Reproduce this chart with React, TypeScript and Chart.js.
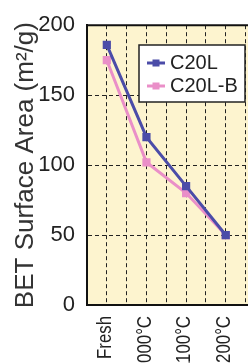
import React, { useEffect, useRef } from "react";
import { Chart, registerables } from "chart.js";

Chart.register(...registerables);

const categories = ["Fresh", "1000°C", "1100°C", "1200°C"];
const seriesNames = ["C20L", "C20L-B"];
const c20l = [186, 120, 85, 50];
const c20lB = [175, 102, 80, 50];
const yTicks = [0, 50, 100, 150, 200];

const FONT = "'Liberation Sans', Arial, Helvetica, sans-serif";
const BLUE = "#4b4ca8";
const PINK = "#ea8fc8";

const CANVAS_W = 291;
const CANVAS_H = 400;

const framePlugin = {
  id: "frame",
  beforeDraw(chart: any) {
    const { ctx, chartArea } = chart;
    ctx.save();
    ctx.fillStyle = "#fdf4cf";
    ctx.fillRect(chartArea.left, chartArea.top, chartArea.right - chartArea.left, chartArea.bottom - chartArea.top);
    ctx.restore();
  },
  afterDatasetsDraw(chart: any) {
    const { ctx, chartArea } = chart;
    ctx.save();
    ctx.strokeStyle = "#111";
    ctx.lineWidth = 2;
    ctx.beginPath();
    ctx.moveTo(chartArea.left - 1, chartArea.top);
    ctx.lineTo(chartArea.right, chartArea.top);
    ctx.stroke();
    ctx.restore();
  },
  afterDraw(chart: any) {
    const { ctx, chartArea } = chart;
    const xs = chart.scales.x;
    // category labels, rotated and read upward
    ctx.save();
    ctx.fillStyle = "#222";
    ctx.font = `21px ${FONT}`;
    ctx.textBaseline = "middle";
    ctx.textAlign = "right";
    categories.forEach((label, i) => {
      const px = xs.getPixelForValue(i) - 1.5;
      ctx.save();
      ctx.translate(px, chartArea.bottom + 11);
      ctx.rotate(-Math.PI / 2);
      ctx.scale(0.8, 1);
      ctx.fillText(label, 0, 0);
      ctx.restore();
    });
    ctx.restore();

    const bx = 139, by = 45, bw = 106, bh = 57;
    ctx.save();
    ctx.fillStyle = "#ffffff";
    ctx.fillRect(bx, by, bw, bh);
    ctx.strokeStyle = "#222";
    ctx.lineWidth = 1.5;
    ctx.strokeRect(bx, by, bw, bh);
    const rows = [63, 86];
    chart.data.datasets.forEach((ds: any, i: number) => {
      const y = rows[i];
      ctx.strokeStyle = ds.borderColor;
      ctx.lineWidth = 3;
      ctx.beginPath();
      ctx.moveTo(147, y);
      ctx.lineTo(165, y);
      ctx.stroke();
      ctx.fillStyle = ds.borderColor;
      ctx.fillRect(152.5, y - 3.5, 7, 7);
      ctx.fillStyle = "#222";
      ctx.font = `20px ${FONT}`;
      ctx.textBaseline = "middle";
      ctx.textAlign = "left";
      ctx.fillText(ds.label, 170, y);
    });
    ctx.restore();
  },
};

export default function App() {
  const ref = useRef<HTMLCanvasElement>(null);
  useEffect(() => {
    if (!ref.current) return;
    const chart = new Chart(ref.current, {
      type: "line",
      data: {
        datasets: [
          {
            label: seriesNames[0],
            data: c20l.map((v, i) => ({ x: i, y: v })),
            borderColor: BLUE,
            backgroundColor: BLUE,
            borderWidth: 3,
            pointStyle: "rect",
            pointRadius: 5.8,
            pointBorderWidth: 0,
          },
          {
            label: seriesNames[1],
            data: c20lB.map((v, i) => ({ x: i, y: v })),
            borderColor: PINK,
            backgroundColor: PINK,
            borderWidth: 3,
            pointStyle: "rect",
            pointRadius: 5.8,
            pointBorderWidth: 0,
          },
        ],
      },
      options: {
        responsive: false,
        animation: false,
        layout: { padding: { top: 25, right: 0, left: 0, bottom: 0 } },
        plugins: { legend: { display: false }, tooltip: { enabled: false } },
        scales: {
          x: {
            type: "linear",
            min: -0.5,
            max: 4.5,
            afterFit: (s: any) => {
              s.height = CANVAS_H - 305;
            },
            afterBuildTicks: (s: any) => {
              const t = [];
              for (let v = -0.5; v <= 4.5; v += 0.5) t.push({ value: v });
              s.ticks = t;
            },
            ticks: {
              display: false,
            },
            grid: {
              drawTicks: false,
              color: (c: any) => (c.tick && c.tick.value <= -0.5 ? "rgba(0,0,0,0)" : "#222"),
              lineWidth: 1,
            },
            border: { display: true, color: "#111", width: 2, dash: [4, 3] },
          },
          y: {
            min: 0,
            max: 200,
            afterFit: (s: any) => {
              s.width = 87;
            },
            afterBuildTicks: (s: any) => {
              s.ticks = yTicks.map((v) => ({ value: v }));
            },
            ticks: {
              padding: 12,
              color: "#222",
              font: { family: FONT, size: 22 },
            },
            grid: {
              drawTicks: false,
              color: (c: any) => (c.tick && (c.tick.value === 0 || c.tick.value === 200) ? "rgba(0,0,0,0)" : "#222"),
              lineWidth: 1,
            },
            border: { display: true, color: "#111", width: 2, dash: [4, 3] },
            title: {
              display: true,
              text: "BET Surface Area (m²/g)",
              color: "#333",
              font: { family: FONT, size: 26 },
              padding: { top: 10, bottom: 0 },
            },
          },
        },
      },
      plugins: [framePlugin],
    });
    return () => chart.destroy();
  }, []);
  return (
    <div style={{ position: "fixed", left: 0, top: 0, width: 248, height: 363, overflow: "hidden", background: "#fff" }}>
      <canvas ref={ref} width={CANVAS_W} height={CANVAS_H} style={{ display: "block" }} />
    </div>
  );
}
